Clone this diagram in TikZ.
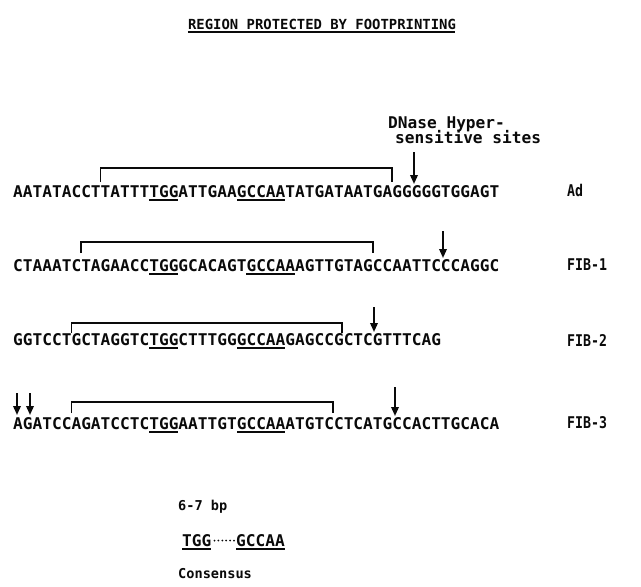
\documentclass[tikz,border=0pt]{standalone}
\usepackage{fontspec}
\newfontfamily\seqfont{DejaVu Sans Mono}
\newfontfamily\labfont{DejaVu Sans Mono}[FakeStretch=0.82]
\usetikzlibrary{arrows.meta}
\definecolor{inkBlack}{RGB}{10,10,10}

\tikzset{
  seqtext/.style={font=\seqfont\bfseries\fontsize{16.15}{18}\selectfont, text=inkBlack, inner sep=0pt, anchor=base west},
  smalltext/.style={font=\seqfont\bfseries\fontsize{13.6}{16}\selectfont, text=inkBlack, inner sep=0pt, anchor=base west},
  labtext/.style={font=\labfont\bfseries\fontsize{16.15}{18}\selectfont, text=inkBlack, inner sep=0pt, anchor=base west},
  bracket/.style={draw=inkBlack, line width=1.5pt},
  uline/.style={draw=inkBlack, line width=1.4pt},
  site/.style={draw=inkBlack, line width=1.8pt, -{Triangle[length=9pt,width=7.5pt]}}
}

\begin{document}
\begin{tikzpicture}[x=1pt, y=-1pt]
  \useasboundingbox (0,0) rectangle (641,587);

  % title
  \node[smalltext, font=\seqfont\bfseries\fontsize{13.9}{16}\selectfont, anchor=base] (title) at (322,29) {REGION PROTECTED BY FOOTPRINTING};
  \draw[uline] (title.base west) ++(0,3) -- ++(267,0);

  \node[seqtext] (dnase) at (388,128) {DNase Hyper-};
  \node[seqtext] (sens) at (395,143) {sensitive sites};

  % sequences
  \node[seqtext] (seqAd) at (13,197) {AATATACCTTATTTTGGATTGAAGCCAATATGATAATGAGGGGGTGGAGT};
  \node[seqtext] (seqFa) at (13,271) {CTAAATCTAGAACCTGGGCACAGTGCCAAAGTTGTAGCCAATTCCCAGGC};
  \node[seqtext] (seqFb) at (13,345) {GGTCCTGCTAGGTCTGGCTTTGGGCCAAGAGCCGCTCGTTTCAG};
  \node[seqtext] (seqFc) at (13,429) {AGATCCAGATCCTCTGGAATTGTGCCAAATGTCCTCATGCCACTTGCACA};

  \node[labtext] (labAd) at (567,196) {Ad};
  \node[labtext] (labFa) at (567,270) {FIB-1};
  \node[labtext] (labFb) at (567,346) {FIB-2};
  \node[labtext] (labFc) at (567,428) {FIB-3};

  % protected regions
  \draw[bracket] (100.5,182) |- (392,168) -- (392,182);
  \draw[bracket] (81,253) |- (373,242) -- (373,253);
  \draw[bracket] (71.3,333) |- (342,323) -- (342,333);
  \draw[bracket] (71.3,413) |- (333,402) -- (333,413);

  % boxes TGG / GCCAA
  \draw[uline] (149,200) -- (178,200);  \draw[uline] (237,200) -- (285,200);
  \draw[uline] (149,274) -- (178,274);  \draw[uline] (246,274) -- (295,274);
  \draw[uline] (149,348) -- (178,348);  \draw[uline] (237,348) -- (285,348);
  \draw[uline] (149,432) -- (178,432);  \draw[uline] (237,432) -- (285,432);

  % hypersensitive sites
  \draw[site] (414,152) -- (414,184);
  \draw[site] (443,231) -- (443,258);
  \draw[site] (374,307) -- (374,332);
  \draw[site] (17,393) -- (17,415);
  \draw[site] (30,393) -- (30,415);
  \draw[site] (395,387) -- (395,416);

  % consensus
  \node[smalltext] (gap) at (178,510) {6-7 bp};
  \node[seqtext] (boxA) at (182,546) {TGG};
  \node[seqtext] (boxB) at (236,546) {GCCAA};
  \foreach \i in {0,...,5} {
    \fill[inkBlack] (214.5+\i*3.9,540.5) circle (1.0);
  }
  \draw[uline] (boxA.base west) ++(0,3) -- ++(29,0);
  \draw[uline] (boxB.base west) ++(0,3) -- ++(49,0);
  \node[smalltext] (cons) at (178,578) {Consensus};
\end{tikzpicture}
\end{document}
